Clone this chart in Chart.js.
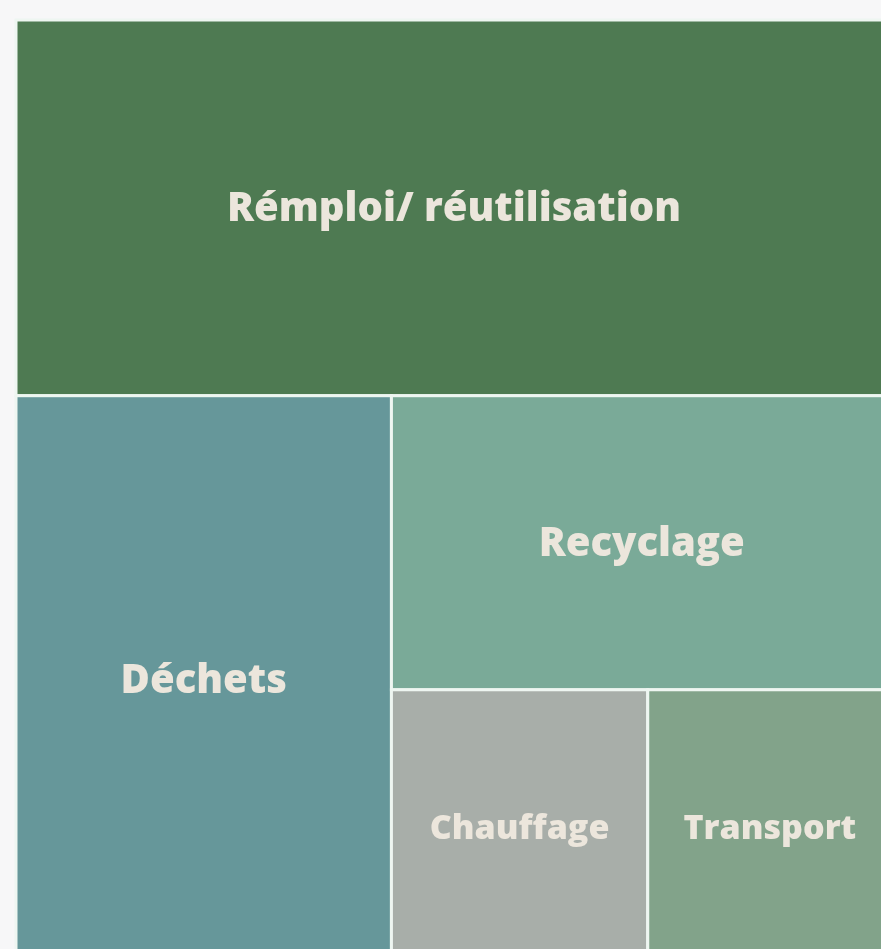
<!DOCTYPE html>
<html>
<head>
<meta charset="utf-8">
<script src="https://cdn.jsdelivr.net/npm/chart.js@4.4.1/dist/chart.umd.min.js"></script>
<style>
  html, body { margin: 0; padding: 0; background: #f7f7f8; overflow: hidden; }
  #wrap { position: absolute; left: 0; top: 0; width: 892px; height: 964px; }
</style>
</head>
<body>
<div id="wrap"><canvas id="c"></canvas></div>
<script>
// Data (share of total, %)
const categories = ["Rémploi/ réutilisation", "Déchets", "Recyclage", "Chauffage", "Transport"];
const values = [39.8, 25.8, 17.8, 8.5, 8.1];
const colors = ["#4e7a52", "#66979a", "#7aaa98", "#a8aea9", "#82a38a"];

// Slice-the-longer-side treemap layout in value space [0,100]x[0,100]
function layout(vals, aspect) {
  const total = vals.reduce((a, b) => a + b, 0);
  let x0 = 0, y0 = 0, x1 = 100, y1 = 100;
  let remaining = total;
  const rects = [];
  vals.forEach((v, i) => {
    if (i === vals.length - 1) { rects.push({x0, y0, x1, y1}); return; }
    const f = v / remaining;
    const wPx = (x1 - x0) * aspect, hPx = (y1 - y0);
    if (hPx >= wPx) {
      const yc = y0 + (y1 - y0) * f;
      rects.push({x0, y0, x1, y1: yc});
      y0 = yc;
    } else {
      const xc = x0 + (x1 - x0) * f;
      rects.push({x0, y0, x1: xc, y1});
      x0 = xc;
    }
    remaining -= v;
  });
  return rects;
}

const treemapPlugin = {
  id: 'treemap',
  beforeDatasetsDraw(chart) {
    const {ctx, chartArea, scales} = chart;
    const aspect = (chartArea.right - chartArea.left) / (chartArea.bottom - chartArea.top);
    const rects = layout(values, aspect);
    const px = rects.map(r => {
      const a = scales.x.getPixelForValue(r.x0), b = scales.x.getPixelForValue(r.x1);
      const c = scales.y.getPixelForValue(r.y0), d = scales.y.getPixelForValue(r.y1);
      return { left: Math.min(a, b), top: Math.min(c, d), w: Math.abs(b - a), h: Math.abs(d - c) };
    });
    ctx.save();
    px.forEach((p, i) => {
      ctx.fillStyle = colors[i];
      ctx.fillRect(p.left, p.top, p.w, p.h);
      ctx.lineWidth = 3;
      ctx.strokeStyle = "#eef6f1";
      ctx.strokeRect(p.left, p.top, p.w, p.h);
    });
    px.forEach((p, i) => {
      const size = p.w < 300 ? 34 : 40;
      ctx.font = "800 " + size + "px 'Open Sans', 'DejaVu Sans', sans-serif";
      ctx.fillStyle = "#ece6dc";
      ctx.textAlign = "center";
      ctx.textBaseline = "middle";
      ctx.fillText(categories[i], p.left + p.w / 2, p.top + p.h / 2 + 2);
    });
    ctx.restore();
  }
};

new Chart(document.getElementById('c'), {
  type: 'scatter',
  data: { datasets: [{ label: 'Part', data: [], pointRadius: 0 }] },
  options: {
    responsive: true,
    maintainAspectRatio: false,
    animation: false,
    layout: { padding: { left: 16, top: 20, right: 0, bottom: 0 } },
    plugins: { legend: { display: false }, tooltip: { enabled: false } },
    scales: {
      x: { type: 'linear', min: 0, max: 100, display: false },
      y: { type: 'linear', min: 0, max: 100, reverse: true, display: false }
    }
  },
  plugins: [treemapPlugin]
});
</script>
</body>
</html>
